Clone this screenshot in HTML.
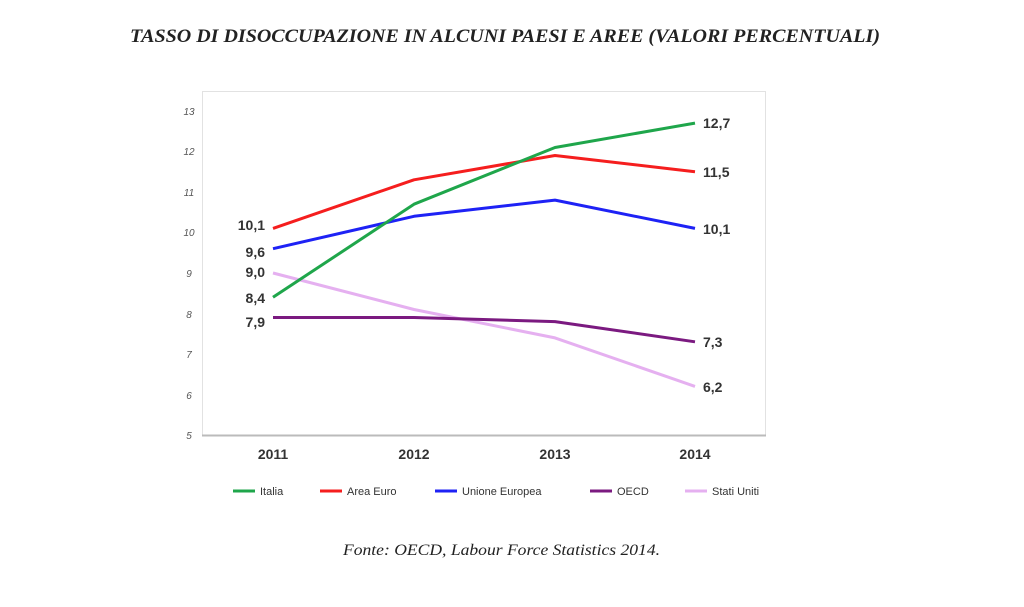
<!DOCTYPE html>
<html><head><meta charset="utf-8"><style>
body{margin:0;background:#fff;width:1024px;height:602px;overflow:hidden}
</style></head><body>
<svg width="1024" height="602" xmlns="http://www.w3.org/2000/svg">
<text x="130" y="42" textLength="750" lengthAdjust="spacingAndGlyphs" font-family="Liberation Serif, serif" font-style="italic" font-weight="bold" font-size="19" fill="#222">TASSO DI DISOCCUPAZIONE IN ALCUNI PAESI E AREE (VALORI PERCENTUALI)</text>
<rect x="202.5" y="91.5" width="563" height="344" fill="none" stroke="#e2e2e2" stroke-width="1"/>
<line x1="202" y1="435.5" x2="766" y2="435.5" stroke="#bbb" stroke-width="2"/>
<g font-family="Liberation Sans, sans-serif" font-style="italic" font-size="10" fill="#555" text-anchor="middle">
<text x="189" y="115">13</text><text x="189" y="155">12</text><text x="189" y="196">11</text><text x="189" y="236">10</text><text x="189" y="277">9</text><text x="189" y="318">8</text><text x="189" y="358">7</text><text x="189" y="399">6</text><text x="189" y="439">5</text>
</g>
<g font-family="Liberation Sans, sans-serif" font-weight="bold" font-size="14" fill="#333" text-anchor="middle">
<text x="273" y="459">2011</text><text x="414" y="459">2012</text><text x="555" y="459">2013</text><text x="695" y="459">2014</text>
</g>
<g fill="none" stroke-width="3" stroke-linejoin="round">
<polyline stroke="#e5b0f0" points="273,273 414,309.5 555,337.9 695,386.4"/>
<polyline stroke="#7b1a80" points="273,317.5 414,317.5 555,321.6 695,341.8"/>
<polyline stroke="#1e22f5" points="273,248.7 414,216.3 555,200.1 695,228.4"/>
<polyline stroke="#f51e1e" points="273,228.4 414,179.8 555,155.5 695,171.7"/>
<polyline stroke="#1fa64b" points="273,297.3 414,204.2 555,147.5 695,123.1"/>
</g>
<g font-family="Liberation Sans, sans-serif" font-weight="bold" font-size="14" fill="#333">
<g text-anchor="end">
<text x="265" y="230">10,1</text><text x="265" y="257">9,6</text><text x="265" y="277">9,0</text><text x="265" y="303">8,4</text><text x="265" y="327">7,9</text>
</g>
<text x="703" y="128">12,7</text><text x="703" y="177">11,5</text><text x="703" y="234">10,1</text><text x="703" y="347">7,3</text><text x="703" y="392">6,2</text>
</g>
<g font-family="Liberation Sans, sans-serif" font-size="11" fill="#333" stroke-width="3">
<line x1="233" y1="491" x2="255" y2="491" stroke="#1fa64b"/><text x="260" y="495">Italia</text>
<line x1="320" y1="491" x2="342" y2="491" stroke="#f51e1e"/><text x="347" y="495">Area Euro</text>
<line x1="435" y1="491" x2="457" y2="491" stroke="#1e22f5"/><text x="462" y="495">Unione Europea</text>
<line x1="590" y1="491" x2="612" y2="491" stroke="#7b1a80"/><text x="617" y="495">OECD</text>
<line x1="685" y1="491" x2="707" y2="491" stroke="#e5b0f0"/><text x="712" y="495">Stati Uniti</text>
</g>
<text x="343" y="555" textLength="317" lengthAdjust="spacingAndGlyphs" font-family="Liberation Serif, serif" font-style="italic" font-size="16" fill="#222">Fonte: OECD, Labour Force Statistics 2014.</text>
</svg>
</body></html>
